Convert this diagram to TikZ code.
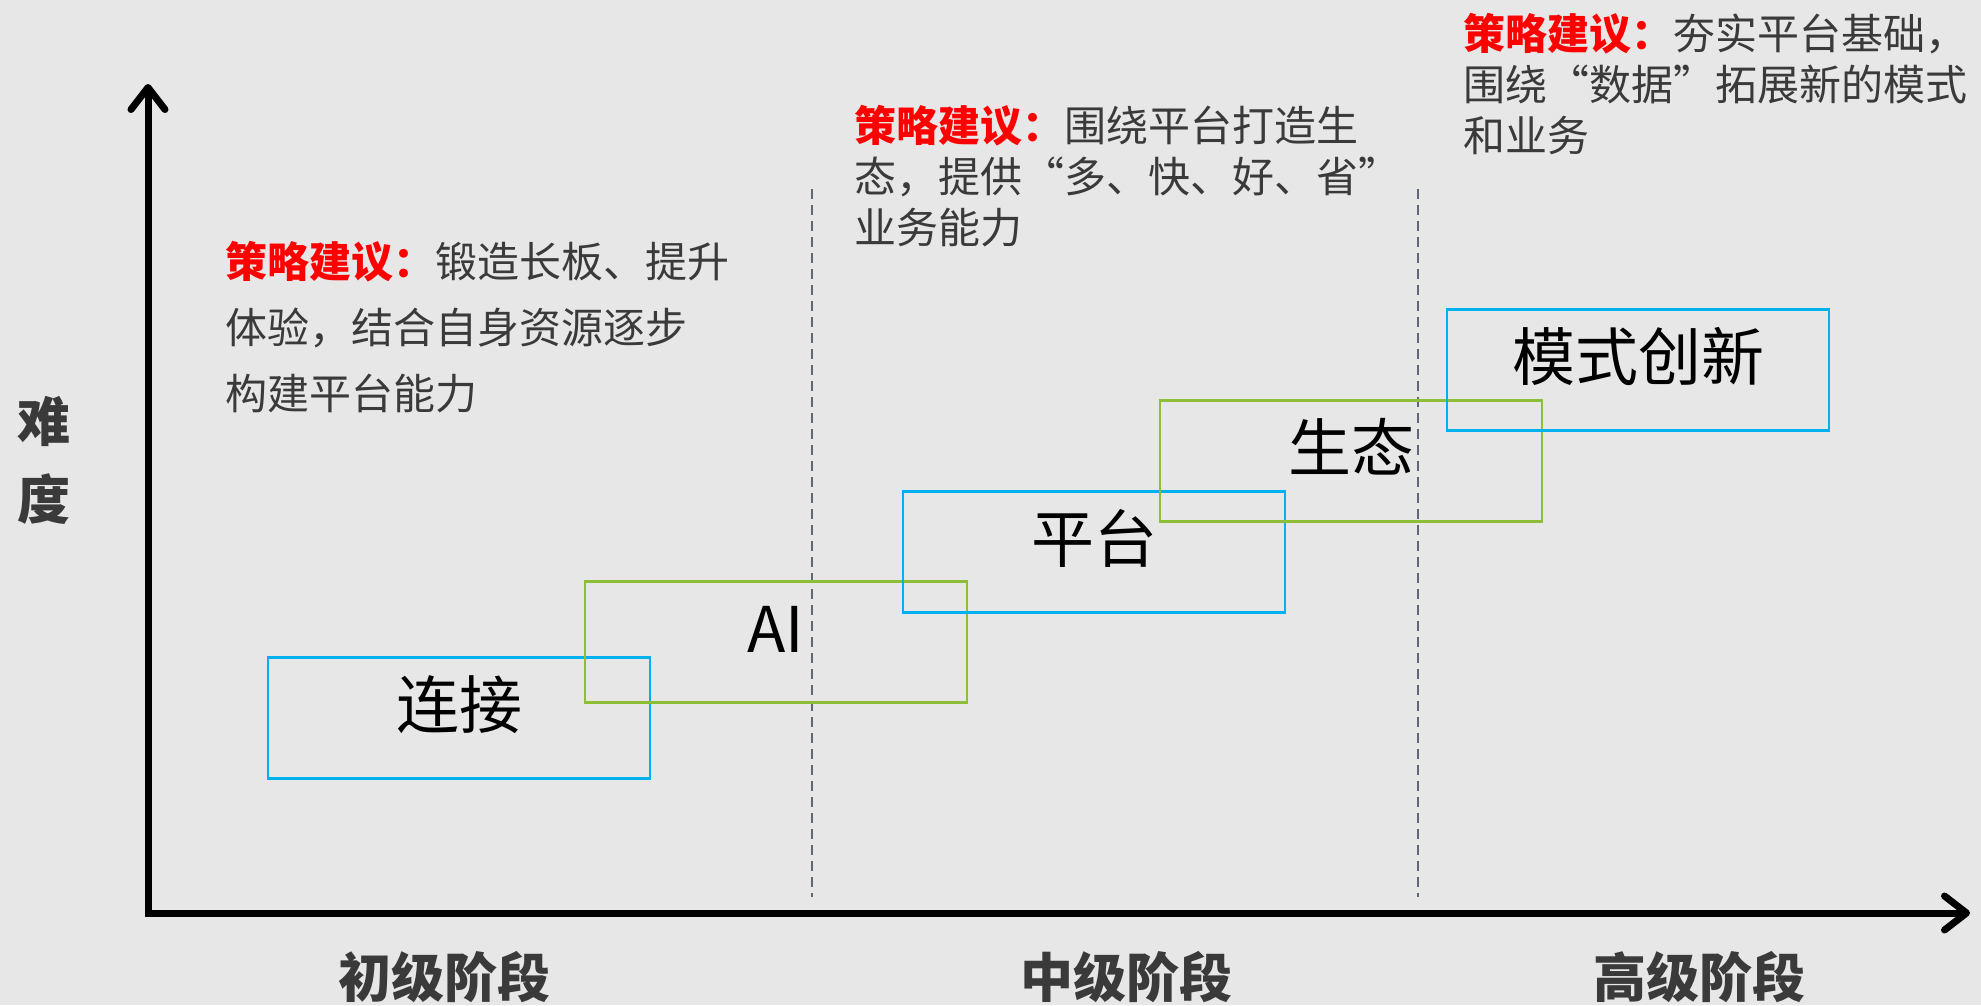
\documentclass[tikz,border=0pt]{standalone}
\usepackage{fontspec}
\setmainfont{Noto Sans CJK SC}
\usepackage{tikz}
\usetikzlibrary{positioning,arrows.meta}
\definecolor{bgGray}{HTML}{E7E7E7}
\definecolor{boxBlue}{HTML}{00B0F0}
\definecolor{boxGreen}{HTML}{8CBF35}
\definecolor{textGray}{HTML}{3A3A3A}
\definecolor{adviceRed}{HTML}{FF0000}
\definecolor{dashGray}{HTML}{5E6878}
\newcommand\boxWidth{382}
\newcommand\boxHeight{121}
\newcommand{\advice}{{\color{adviceRed}\bfseries 策略建议：}}
\tikzset{
    axisLine/.style =  {line width=7pt, line join=miter,
                        {Straight Barb[length=22pt,width=34pt,round]}-{Straight Barb[length=22pt,width=34pt,round]}},
    stageLine/.style = {dashGray, line width=1.5pt, dash pattern=on 10pt off 6pt},
    stageBox/.style =  {draw, line width=2.6pt, inner sep=0pt,
                        minimum width=\boxWidth pt, minimum height=\boxHeight pt,
                        font=\fontsize{63}{63}\selectfont, text height=40pt, text depth=20pt},
    axisName/.style =  {textGray, align=center, font=\bfseries\fontsize{53}{78}\selectfont},
    hint/.style =      {textGray, align=left, anchor=north west, inner sep=0pt,
                        font=\fontsize{42}{66}\selectfont},
    node distance=2cm
}

\begin{document}
\begin{tikzpicture}[x=1pt,y=-1pt]
  \fill[bgGray] (0,0) rectangle (1981,1005);
  \useasboundingbox (0,0) rectangle (1981,1005);

  % Stage borders
  \foreach \x [count=\i] in {812,1418}
  {
    \coordinate (top\i) at (\x,189);
    \coordinate (bot\i) at (\x,897);
    \draw[stageLine] (top\i) -- (bot\i);
  }

  % Axes
  \coordinate (ytip) at (148,84);
  \coordinate (origin) at (148,913);
  \coordinate (xtip) at (1970,913);
  \draw[axisLine] (ytip) -- (origin) -- (xtip);

  % Steps
  \foreach \name/\x/\y/\col/\txt in {connect/459/718/boxBlue/连接,
                                      ai/776/642/boxGreen/AI,
                                      platform/1094/552/boxBlue/平台,
                                      eco/1351/461/boxGreen/生态,
                                      innovate/1638/370/boxBlue/模式创新}
    \node[stageBox, draw=\col] (\name) at (\x,\y) {\txt};

  % Axis names
  \node[axisName] (difficulty) at (44,460) {难\\度};
  \node[axisName] (early) at (444,977) {初级阶段};
  \node[axisName] (middle) at (1126,977) {中级阶段};
  \node[axisName] (advanced) at (1699,977) {高级阶段};

  % Advice
  \node[hint] (adviceEarly) at (225,241)
    {\advice 锻造长板、提升\\体验，结合自身资源逐步\\构建平台能力};
  \node[hint, font=\fontsize{42}{51}\selectfont] (adviceMiddle) at (854,105)
    {\advice 围绕平台打造生\\态，提供“多、快、好、省”\\业务能力};
  \node[hint, font=\fontsize{42}{51}\selectfont] (adviceAdvanced) at (1463,13)
    {\advice 夯实平台基础，\\围绕“数据”拓展新的模式\\和业务};
\end{tikzpicture}
\end{document}
